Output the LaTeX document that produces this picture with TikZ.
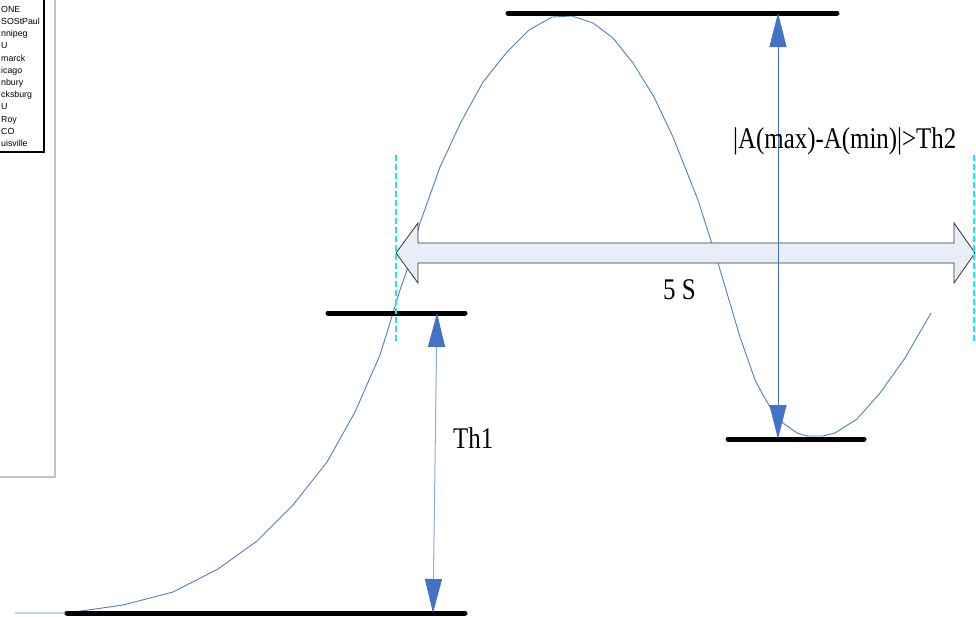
\documentclass[tikz,border=0pt]{standalone}
\usepackage{fontspec}
\setmainfont{Liberation Serif}
\newfontfamily\legendfont{Liberation Sans}
\usepackage{xcolor}
\usetikzlibrary{arrows.meta, positioning}
\definecolor{waveblue}{HTML}{4F7FC8}
\definecolor{tipblue}{HTML}{4472C4}
\definecolor{lightblue}{HTML}{8EAADB}
\definecolor{arrowfill}{HTML}{E8EEF8}
\definecolor{markcyan}{HTML}{22E4F2}
\definecolor{framegray}{HTML}{C4C4BC}
\tikzstyle{level} = [line width=5pt, line cap=round, black]
\tikzstyle{wave} = [draw=waveblue, line width=0.9pt, line join=round]
\tikzstyle{gauge} = [line width=1pt, {Triangle[width=17pt,length=34pt,color=tipblue]}-{Triangle[width=17pt,length=34pt,color=tipblue]}]
\tikzstyle{window} = [markcyan, line width=2pt, dash pattern=on 6pt off 3pt]
\tikzstyle{label} = [inner sep=0pt, anchor=base west, font=\fontsize{30}{30}\selectfont, xscale=0.83]
\tikzstyle{legend} = [inner sep=0pt, anchor=base west, font=\legendfont\fontsize{8.8}{9}\selectfont]

\begin{document}
\begin{tikzpicture}[x=1pt, y=-1pt]
  \useasboundingbox (0,0) rectangle (976,616);

  % legend box, cut at the left edge
  \begin{scope}
    \clip (0,0) rectangle (60,480);
    \draw[framegray, line width=2pt] (-10,-10) rectangle (55,477);
    \draw[black, line width=2.5pt] (-10,-10) rectangle (44,152);
    \foreach \name [count=\i] in {ONE, SOStPaul, nnipeg, U, marck, icago, nbury, cksburg, U, Roy, CO, uisville}
      \node (leg\i) [legend] at (1, {12.3+12.2*(\i-1)}) {\name};
  \end{scope}

  % signal
  \draw[wave] plot coordinates {(15,613) (67,613) (123,605) (173,592) (218,569) (257,541) (293,505) (327,462) (355,412) (380,355) (393,313) (400,290) (407,270) (420,223) (440,167) (461,122) (483,82) (507,52) (529,30) (552,17) (572,16) (593,23) (613,38) (633,63) (654,97) (673,137) (698,200) (718,263) (740,337) (755,380) (762,393) (770,407) (783,423) (797,433) (807,436) (823,436) (835,433) (857,419) (880,393) (905,358) (931,313)};

  % 5 s window arrow
  \draw[fill=arrowfill, draw=black!80, line width=0.8pt] (396,253) -- (418,223) -- (418,243) -- (954,243) -- (954,223) -- (975,253) -- (954,283) -- (954,263) -- (418,263) -- (418,283) -- cycle;

  % levels
  \coordinate (maxL) at (508,13);  \coordinate (maxR) at (837,13);
  \coordinate (thL) at (328,313);  \coordinate (thR) at (465,313);
  \coordinate (minL) at (728,439); \coordinate (minR) at (864,439);
  \coordinate (baseL) at (67,613); \coordinate (baseR) at (465,613);
  \draw[level] (maxL) -- (maxR);
  \draw[level] (thL) -- (thR);
  \draw[level] (minL) -- (minR);
  \draw[level] (baseL) -- (baseR);

  % gauges
  \coordinate (thTop) at (437,313);  \coordinate (thBot) at (433,613);
  \coordinate (ampTop) at (778,13);  \coordinate (ampBot) at (778,439);
  \draw[gauge, draw=lightblue] (thBot) -- (thTop);
  \draw[gauge, draw=tipblue] (ampTop) -- (ampBot);

  % window limits
  \coordinate (winA1) at (396,155); \coordinate (winA2) at (396,343);
  \coordinate (winB1) at (974,155); \coordinate (winB2) at (974,343);
  \draw[window] (winA1) -- (winA2);
  \draw[window] (winB1) -- (winB2);

  % texts
  \node (th1) [label] at (453,448) {Th1};
  \node (span) [label] at (663,299) {5 S};
  \node (th2) [label] at (733,148) {|A(max)-A(min)|>Th2};
\end{tikzpicture}
\end{document}
